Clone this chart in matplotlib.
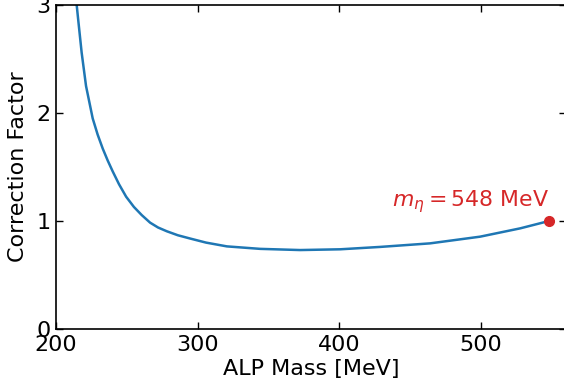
import matplotlib
matplotlib.use("Agg")
import matplotlib.pyplot as plt

# ALP mass [MeV] and correction factor
alp_mass = [213.0, 214.6, 215.7, 218.1, 221.2, 225.9, 229.4, 233.0, 236.5, 240.0,
            244.5, 249.5, 255.0, 260.5, 266.4, 272.0, 278.2, 286.0, 294.6, 305.9,
            320.6, 344.1, 372.3, 400.6, 428.8, 464.1, 499.4, 527.7, 548.0]
correction = [3.20, 3.00, 2.86, 2.56, 2.25, 1.95, 1.80, 1.67, 1.56, 1.46,
              1.34, 1.225, 1.13, 1.055, 0.985, 0.94, 0.905, 0.868, 0.838, 0.80,
              0.765, 0.742, 0.731, 0.738, 0.760, 0.793, 0.855, 0.932, 1.0]

eta_mass = 548.0
eta_factor = 1.0
eta_label = r"$m_\eta = 548$ MeV"

x_ticks = [200, 300, 400, 500]
y_ticks = [0, 1, 2, 3]

fig = plt.figure(figsize=(5.64, 3.92), dpi=100)
ax = fig.add_axes([56/564, 1-329/392, 510/564, 324/392])

ax.plot(alp_mass, correction, color="#1f77b4", lw=1.8,
        solid_joinstyle="round", solid_capstyle="round")
ax.plot([eta_mass], [eta_factor], "o", color="#d62728", ms=7, clip_on=False, zorder=5)
ax.text(eta_mass, eta_factor + 0.06, eta_label, color="#d62728", fontsize=15.8,
        ha="right", va="bottom")

ax.set_xlim(200, 560)
ax.set_ylim(0, 3)
ax.set_xticks(x_ticks)
ax.set_yticks(y_ticks)
ax.tick_params(direction="in", top=True, right=True, labelsize=16, length=5, width=1,
               pad=4)
for s in ax.spines.values():
    s.set_linewidth(1.2)
ax.set_xlabel("ALP Mass [MeV]", fontsize=16, labelpad=3)
ax.set_ylabel("Correction Factor", fontsize=16, labelpad=6)

fig.savefig("out.png", dpi=100)
